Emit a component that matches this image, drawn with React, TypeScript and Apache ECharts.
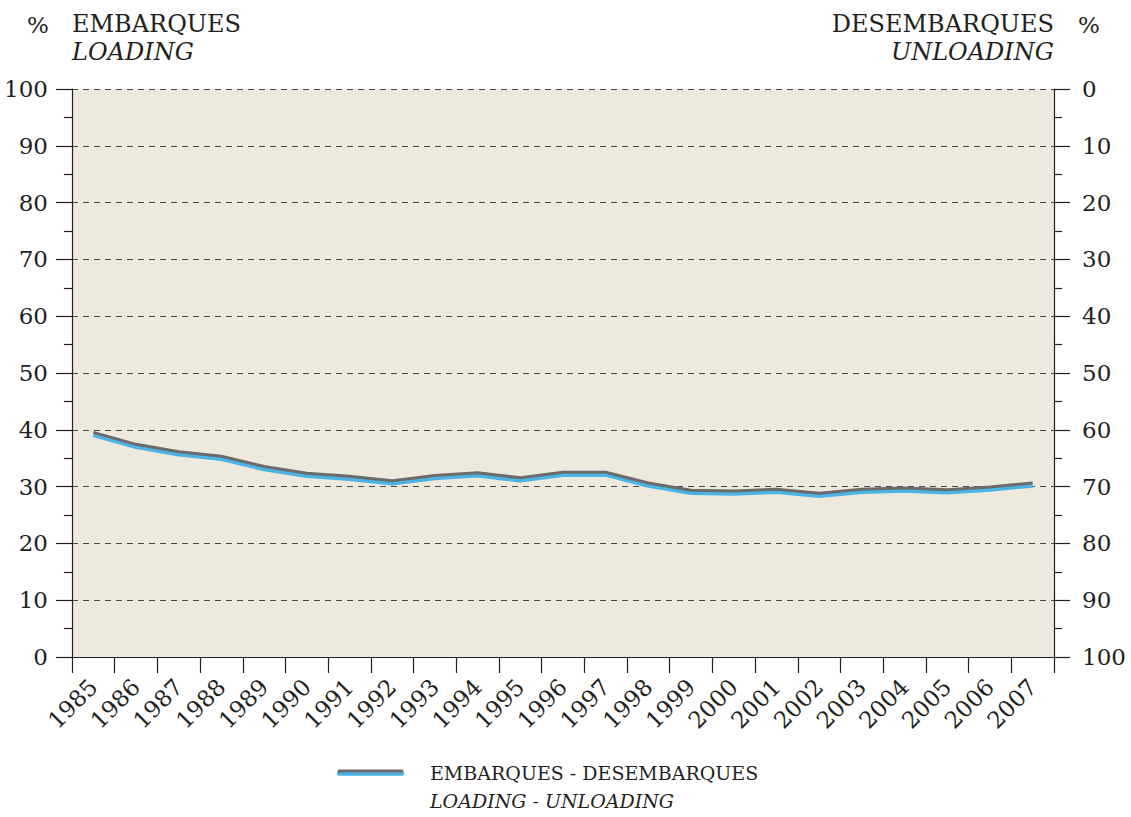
import React, { useEffect, useRef } from "react";
import * as echarts from "echarts";

const years = [
  "1985", "1986", "1987", "1988", "1989", "1990", "1991", "1992",
  "1993", "1994", "1995", "1996", "1997", "1998", "1999", "2000",
  "2001", "2002", "2003", "2004", "2005", "2006", "2007",
];

// Loading share (%) — the unloading share is 100 minus this (right axis, inverted)
const loadingShare = [
  39.1, 37.0, 35.7, 34.9, 33.1, 31.9, 31.4, 30.6, 31.5, 32.0, 31.1, 32.1,
  32.1, 30.2, 28.9, 28.8, 29.1, 28.4, 29.1, 29.3, 29.0, 29.5, 30.2,
];

const leftTitle = ["EMBARQUES", "LOADING"];
const rightTitle = ["DESEMBARQUES", "UNLOADING"];
const legendText = ["EMBARQUES - DESEMBARQUES", "LOADING - UNLOADING"];

const FONT = "'DejaVu Serif', serif";
const TXT = "#231f20";
const BLUE = "#4cb3e6";
const GRAY = "#6b6b6b";

export default function App() {
  const ref = useRef<HTMLDivElement>(null);
  useEffect(() => {
    const chart = echarts.init(ref.current!, null, { renderer: "svg" });
    const labelStyle = { fontFamily: FONT, fontSize: 23, color: TXT };
    chart.setOption({
      animation: false,
      backgroundColor: "#ffffff",
      grid: [
        { left: 72, right: 77, top: 89, bottom: 160, show: true, backgroundColor: "#edeadd", borderWidth: 0 },
        { left: 72, right: 77, top: 86.5, bottom: 162.5, show: false },
      ],
      xAxis: [
        {
          type: "category",
          gridIndex: 0,
          data: years,
          boundaryGap: true,
          axisLine: { show: true, lineStyle: { color: TXT, width: 1.2 } },
          axisTick: { show: true, length: 16, lineStyle: { color: TXT, width: 1.2 } },
          axisLabel: { ...labelStyle, rotate: 45, margin: 26, interval: 0 },
          splitLine: { show: false },
        },
        { type: "category", gridIndex: 1, data: years, boundaryGap: true, show: false },
      ],
      yAxis: [
        {
          type: "value",
          gridIndex: 0,
          position: "left",
          min: 0,
          max: 100,
          interval: 10,
          axisLine: { show: true, lineStyle: { color: TXT, width: 1.2 } },
          axisTick: { show: true, length: 16, lineStyle: { color: TXT, width: 1.2 } },
          minorTick: { show: true, splitNumber: 2, length: 8, lineStyle: { color: TXT, width: 1.2 } },
          axisLabel: { ...labelStyle, margin: 24 },
          splitLine: { show: true, lineStyle: { type: [6, 5], color: "#4a4a4a", width: 1.2 } },
        },
        {
          type: "value",
          gridIndex: 0,
          position: "right",
          inverse: true,
          min: 0,
          max: 100,
          interval: 10,
          axisLine: { show: true, lineStyle: { color: TXT, width: 1.2 } },
          axisTick: { show: true, length: 16, lineStyle: { color: TXT, width: 1.2 } },
          minorTick: { show: true, splitNumber: 2, length: 8, lineStyle: { color: TXT, width: 1.2 } },
          axisLabel: { ...labelStyle, margin: 28 },
          splitLine: { show: false },
        },
        { type: "value", gridIndex: 1, min: 0, max: 100, show: false },
      ],
      series: [
        {
          type: "line",
          xAxisIndex: 0,
          yAxisIndex: 0,
          data: loadingShare,
          symbol: "none",
          lineStyle: { color: BLUE, width: 4.5 },
          z: 3,
        },
        {
          type: "line",
          xAxisIndex: 1,
          yAxisIndex: 2,
          data: loadingShare,
          symbol: "none",
          lineStyle: { color: GRAY, width: 3 },
          z: 4,
        },
      ],
      graphic: [
        { type: "text", left: 27, top: 13, style: { text: "%", fontFamily: FONT, fontSize: 23, fill: TXT } },
        { type: "text", left: 72, top: 12, style: { text: leftTitle[0], fontFamily: FONT, fontSize: 24, fill: TXT } },
        { type: "text", left: 72, top: 40, style: { text: leftTitle[1], fontFamily: FONT, fontStyle: "italic", fontSize: 24, fill: TXT } },
        { type: "text", right: 77, top: 12, style: { text: rightTitle[0], fontFamily: FONT, fontSize: 24, fill: TXT } },
        { type: "text", right: 77, top: 40, style: { text: rightTitle[1], fontFamily: FONT, fontStyle: "italic", fontSize: 24, fill: TXT } },
        { type: "text", left: 1078, top: 13, style: { text: "%", fontFamily: FONT, fontSize: 23, fill: TXT } },
        { type: "line", shape: { x1: 339, y1: 773.5, x2: 402, y2: 773.5 }, style: { stroke: BLUE, lineWidth: 4.5, lineCap: "round" }, z: 10 },
        { type: "line", shape: { x1: 339, y1: 771, x2: 402, y2: 771 }, style: { stroke: GRAY, lineWidth: 3, lineCap: "round" }, z: 11 },
        { type: "text", left: 430, top: 763, style: { text: legendText[0], fontFamily: FONT, fontSize: 19, fill: TXT } },
        { type: "text", left: 430, top: 791, style: { text: legendText[1], fontFamily: FONT, fontStyle: "italic", fontSize: 19, fill: TXT } },
      ],
    });
    return () => chart.dispose();
  }, []);
  return <div ref={ref} style={{ position: "fixed", left: 0, top: 0, width: 1131, height: 817 }} />;
}
